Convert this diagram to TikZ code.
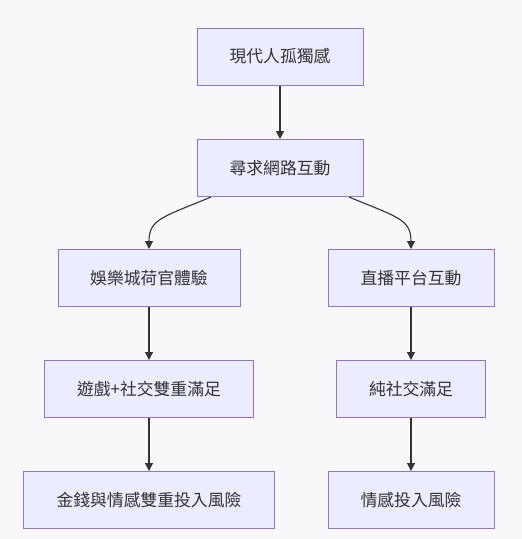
\documentclass[tikz,border=0pt]{standalone}
\usepackage{fontspec}
\newfontfamily\cjk{Noto Sans CJK TC}
\usetikzlibrary{arrows.meta}
\definecolor{bg}{HTML}{F8F8FA}
\definecolor{nodefill}{HTML}{ECECFF}
\definecolor{nodeborder}{HTML}{9370DB}
\definecolor{edge}{HTML}{333333}
\begin{document}
\begin{tikzpicture}[x=1pt,y=-1pt,
  box/.style={draw=nodeborder, fill=nodefill, line width=1pt, inner sep=0pt,
    font=\cjk\fontsize{16.8}{19}\selectfont, text=edge, anchor=center},
  conn/.style={draw=edge, line width=1.1pt, -{Triangle[length=8pt,width=8pt]}}]
\fill[bg] (0,0) rectangle (522,539);
\useasboundingbox (0,0) rectangle (522,539);
\node[box, minimum width=166pt, minimum height=57pt] (a) at (280,56.5) {現代人孤獨感};
\node[box, minimum width=166pt, minimum height=57pt] (b) at (280,168) {尋求網路互動};
\node[box, minimum width=182pt, minimum height=57pt] (c) at (149,278) {娛樂城荷官體驗};
\node[box, minimum width=166pt, minimum height=57pt] (d) at (411,278) {直播平台互動};
\node[box, minimum width=209pt, minimum height=57pt] (e) at (149,389) {遊戲+社交雙重滿足};
\node[box, minimum width=149pt, minimum height=57pt] (f) at (411,389) {純社交滿足};
\node[box, minimum width=251pt, minimum height=57pt] (g) at (149,500) {金錢與情感雙重投入風險};
\node[box, minimum width=166pt, minimum height=57pt] (h) at (411,500) {情感投入風險};
\draw[conn] (a.south) -- (b.north);
\draw[conn] ([xshift=-69pt]b.south) .. controls +(-48,20) and +(0,-30) .. (c.north);
\draw[conn] ([xshift=69pt]b.south) .. controls +(48,20) and +(0,-30) .. (d.north);
\draw[conn] (c.south) -- (e.north);
\draw[conn] (d.south) -- (f.north);
\draw[conn] (e.south) -- (g.north);
\draw[conn] (f.south) -- (h.north);
\end{tikzpicture}
\end{document}
